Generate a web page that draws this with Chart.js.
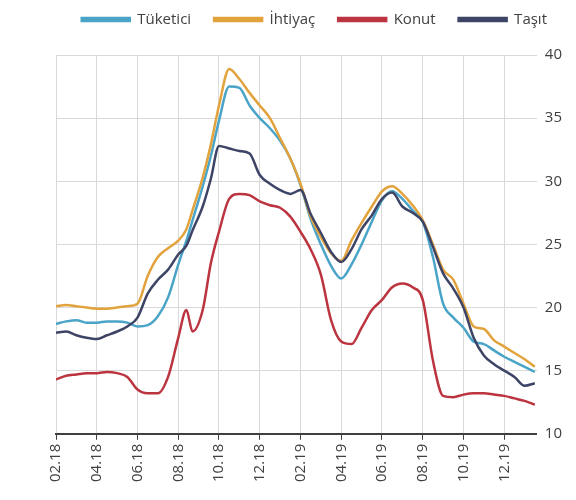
<!DOCTYPE html>
<html>
<head>
<meta charset="utf-8">
<script src="https://cdn.jsdelivr.net/npm/chart.js@4.4.1/dist/chart.umd.min.js"></script>
<style>
  body { margin: 0; background: #fff; }
  #wrap { width: 576px; height: 500px; }
</style>
</head>
<body>
<div id="wrap"><canvas id="myChart"></canvas></div>
<script>
// months since 02.2018
const months = [0, 0.5, 1, 1.5, 2, 2.5, 3, 3.5, 4, 4.5, 5, 5.5, 6, 6.4, 6.7, 7.2, 7.6,
  8, 8.5, 9, 9.5, 10, 10.5, 11, 11.5, 12, 12.5, 13, 13.5, 14, 14.5, 15, 15.5,
  16, 16.5, 17, 17.5, 18, 18.5, 19, 19.5, 20, 20.5, 21, 21.5, 22, 22.5, 23, 23.5];

const tickLabels = ['02.18', '04.18', '06.18', '08.18', '10.18', '12.18',
  '02.19', '04.19', '06.19', '08.19', '10.19', '12.19'];

const tuketici = [18.7, 18.9, 19.0, 18.8, 18.8, 18.9, 18.9, 18.8, 18.5, 18.6, 19.3, 20.8, 23.4, 25.3, 26.9, 29.6, 32.0,
  34.8, 37.5, 37.4, 36.0, 35.0, 34.2, 33.2, 31.8, 29.7, 27.0, 25.0, 23.3, 22.3, 23.4, 25.0, 26.8,
  28.5, 29.2, 28.6, 27.7, 26.8, 24.0, 20.3, 19.2, 18.4, 17.3, 17.1, 16.6, 16.1, 15.7, 15.3, 14.9];

const ihtiyac = [20.1, 20.2, 20.1, 20.0, 19.9, 19.9, 20.0, 20.1, 20.3, 22.5, 24.0, 24.7, 25.3, 26.2, 27.7, 30.3, 32.9,
  36.0, 38.9, 38.1, 37.0, 36.0, 35.0, 33.4, 31.8, 29.8, 27.2, 25.6, 24.3, 23.7, 25.3, 26.7, 28.0,
  29.2, 29.6, 29.0, 28.1, 26.9, 25.0, 23.0, 22.2, 20.3, 18.5, 18.3, 17.4, 16.9, 16.4, 15.9, 15.3];

const konut = [14.3, 14.6, 14.7, 14.8, 14.8, 14.9, 14.8, 14.5, 13.5, 13.2, 13.2, 14.5, 17.6, 19.8, 18.1, 19.8, 23.5,
  26.0, 28.6, 29.0, 28.9, 28.4, 28.1, 27.9, 27.2, 26.0, 24.6, 22.6, 19.0, 17.3, 17.1, 18.4, 19.8,
  20.6, 21.6, 21.9, 21.6, 20.6, 15.8, 13.0, 12.9, 13.1, 13.2, 13.2, 13.1, 13.0, 12.8, 12.6, 12.3];

const tasit = [18.0, 18.1, 17.8, 17.6, 17.5, 17.8, 18.1, 18.5, 19.2, 21.1, 22.2, 23.0, 24.2, 24.9, 26.1, 28.0, 30.2,
  32.8, 32.6, 32.4, 32.2, 30.5, 29.8, 29.3, 29.0, 29.3, 27.4, 25.9, 24.4, 23.6, 24.6, 26.2, 27.3,
  28.6, 29.1, 28.0, 27.5, 26.8, 24.8, 22.7, 21.5, 20.0, 17.6, 16.2, 15.5, 15.0, 14.5, 13.8, 14.0];

function pts(arr) {
  return months.map((m, i) => ({ x: m, y: arr[i] }));
}

function line(label, arr, color, order) {
  return {
    label: label,
    data: pts(arr),
    borderColor: color,
    backgroundColor: color,
    borderWidth: 2.5,
    pointRadius: 0,
    cubicInterpolationMode: 'monotone',
    order: order
  };
}

// a bit of room under the legend
const legendGap = {
  id: 'legendGap',
  beforeInit(chart) {
    const fit = chart.legend.fit;
    chart.legend.fit = function () {
      fit.bind(chart.legend)();
      this.height += 18;
    };
  }
};

const font = { family: 'Open Sans', size: 15 };

const ctx = document.getElementById('myChart');

new Chart(ctx, {
  type: 'line',
  data: {
    datasets: [
      line('Tüketici', tuketici, '#4aa4c8', 4),
      line('İhtiyaç', ihtiyac, '#e2a23c', 3),
      line('Konut', konut, '#bb3440', 2),
      line('Taşıt', tasit, '#3d4466', 1)
    ]
  },
  options: {
    responsive: true,
    maintainAspectRatio: false,
    animation: false,
    layout: { padding: { top: -11, right: 6, bottom: 14, left: 56 } },
    plugins: {
      tooltip: { enabled: false },
      legend: {
        position: 'top',
        align: 'end',
        labels: {
          boxWidth: 48,
          boxHeight: 3,
          padding: 23,
          color: '#404040',
          font: font,
          sort: (a, b) => a.datasetIndex - b.datasetIndex
        }
      }
    },
    scales: {
      x: {
        type: 'linear',
        min: 0,
        max: 23.6,
        afterBuildTicks: (axis) => {
          axis.ticks = tickLabels.map((t, i) => ({ value: i * 2 }));
        },
        grid: { color: '#d9d9d9', lineWidth: 1, tickColor: '#404040', tickLength: 6 },
        border: { display: true, color: '#404040', width: 2 },
        ticks: {
          minRotation: 90,
          maxRotation: 90,
          autoSkip: false,
          padding: 4,
          color: '#404040',
          font: font,
          callback: (v) => tickLabels[v / 2]
        }
      },
      y: {
        position: 'right',
        min: 10,
        max: 40,
        ticks: { stepSize: 5, padding: 8, color: '#404040', font: font },
        grid: { color: '#d9d9d9', lineWidth: 1, drawTicks: false },
        border: { display: false }
      }
    }
  },
  plugins: [legendGap]
});
</script>
</body>
</html>
